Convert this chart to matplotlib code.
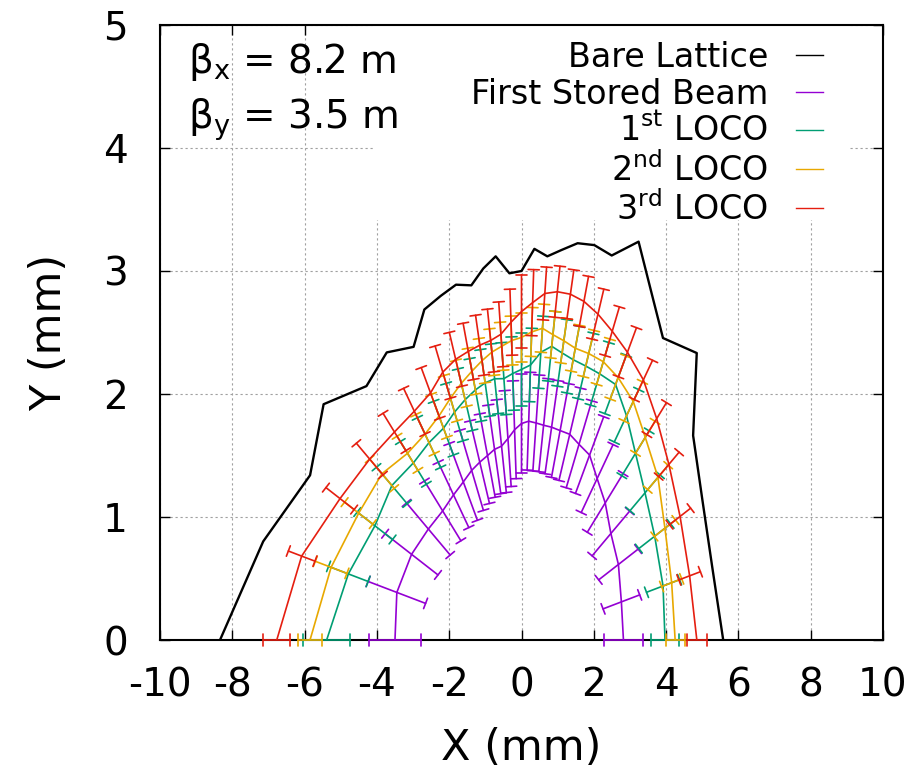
import numpy as np
import matplotlib.pyplot as plt
from matplotlib.lines import Line2D
from matplotlib.patches import Rectangle

plt.rcParams['font.family'] = 'DejaVu Sans'
plt.rcParams['mathtext.default'] = 'regular'
plt.rcParams['axes.unicode_minus'] = False

# scan rays (deg, measured from +x axis)
angles = [180.0, 173.6, 167.1, 160.7, 154.3, 147.9, 141.4, 135.0, 128.6, 122.1,
          115.7, 109.3, 102.9, 96.4, 90.0, 83.6, 77.1, 70.7, 64.3, 57.9,
          51.4, 45.0, 38.6, 32.1, 25.7, 19.3, 12.9, 6.4, 0.0]

# aperture radius along each ray (mm) and its error
r_bare = [8.34, 7.19, 6.00, 5.80, 4.76, 4.40, 3.82, 3.80, 3.58, 3.41,
          3.20, 3.20, 3.20, 3.00, 3.00, 3.20, 3.20, 3.36, 3.58, 3.79,
          4.00, 4.58, 4.57, 4.62, 5.38, 5.03, 5.13, 5.31, 5.58]

r_first = [3.50, 3.47, 3.12, 2.73, 2.42, 2.22, 2.06, 1.95, 1.85, 1.77,
           1.72, 1.67, 1.68, 1.72, 1.76, 1.79, 1.81, 1.85, 1.92, 2.01,
           2.14, 2.25, 2.41, 2.47, 2.57, 2.62, 2.75, 2.78, 2.82]
e_first = [0.72, 0.80, 0.75, 0.64, 0.56, 0.50, 0.50, 0.46, 0.43, 0.40,
           0.40, 0.40, 0.40, 0.40, 0.40, 0.40, 0.40, 0.40, 0.42, 0.45,
           0.48, 0.50, 0.50, 0.52, 0.55, 0.55, 0.56, 0.51, 0.53]

r_loco1 = [5.39, 4.82, 4.16, 3.80, 3.32, 3.02, 2.76, 2.62, 2.50, 2.40,
           2.32, 2.25, 2.18, 2.18, 2.20, 2.25, 2.40, 2.53, 2.59, 2.69,
           2.85, 3.06, 3.33, 3.43, 3.50, 3.62, 3.78, 3.94, 3.97]
e_loco1 = [0.65, 0.55, 0.50, 0.45, 0.40, 0.38, 0.35, 0.33, 0.32, 0.30,
           0.30, 0.30, 0.30, 0.30, 0.30, 0.30, 0.30, 0.30, 0.30, 0.32,
           0.34, 0.36, 0.38, 0.40, 0.42, 0.44, 0.45, 0.46, 0.39]

r_loco2 = [5.85, 5.30, 4.62, 4.09, 3.50, 3.15, 2.92, 2.78, 2.67, 2.58,
           2.52, 2.48, 2.45, 2.45, 2.46, 2.52, 2.60, 2.63, 2.70, 2.80,
           2.98, 3.20, 3.42, 3.65, 3.80, 4.00, 4.07, 4.18, 4.25]
e_loco2 = [0.33, 0.44, 0.40, 0.36, 0.32, 0.30, 0.28, 0.26, 0.24, 0.22,
           0.20, 0.20, 0.20, 0.20, 0.20, 0.20, 0.20, 0.20, 0.20, 0.22,
           0.24, 0.26, 0.28, 0.30, 0.30, 0.30, 0.30, 0.28, 0.26]

r_loco3 = [6.77, 6.12, 5.15, 4.45, 3.90, 3.50, 3.22, 3.08, 2.92, 2.77,
           2.66, 2.58, 2.55, 2.60, 2.67, 2.76, 2.89, 3.00, 3.12, 3.25,
           3.39, 3.55, 3.75, 3.98, 4.15, 4.32, 4.50, 4.68, 4.85]
e_loco3 = [0.37, 0.37, 0.40, 0.39, 0.35, 0.35, 0.33, 0.30, 0.28, 0.27,
           0.27, 0.27, 0.27, 0.27, 0.30, 0.27, 0.22, 0.22, 0.22, 0.24,
           0.26, 0.28, 0.32, 0.30, 0.30, 0.30, 0.30, 0.30, 0.27]

labels = ['Bare Lattice', 'First Stored Beam', '1$^{st}$ LOCO',
          '2$^{nd}$ LOCO', '3$^{rd}$ LOCO']
colors = ['black', '#9400D3', '#009E73', '#E8A800', '#E51E10']

th = np.radians(angles)
cs, sn = np.cos(th), np.sin(th)

fig = plt.figure(figsize=(9.21, 7.75), dpi=100)
ax = fig.add_axes([160 / 921, 135 / 775, 723 / 921, 615 / 775])
ax.set_xlim(-10, 10)
ax.set_ylim(0, 5)

# bare lattice: plain line
ax.plot(np.array(r_bare) * cs, np.array(r_bare) * sn, color=colors[0], lw=1.7, zorder=3)

# the other runs: radial error bars + line
runs = [(r_first, e_first), (r_loco1, e_loco1), (r_loco2, e_loco2), (r_loco3, e_loco3)]
for i, (r, e) in enumerate(runs):
    c = colors[i + 1]
    z = 4 + i
    r = np.array(r)
    e = np.array(e)
    for k in range(len(r)):
        lo = r[k] - e[k]
        hi = r[k] + e[k]
        ax.annotate('', xy=(hi * cs[k], hi * sn[k]), xytext=(lo * cs[k], lo * sn[k]),
                    arrowprops=dict(arrowstyle='|-|,widthA=0.4,widthB=0.4', color=c,
                                    lw=1.2, shrinkA=0, shrinkB=0),
                    annotation_clip=False, zorder=z)
    ax.plot(r * cs, r * sn, color=c, lw=1.2, zorder=z)

# grid, hidden behind the key
ax.set_axisbelow(True)
ax.grid(True, color='#a0a0a0', linestyle=(0, (2, 2.5)), lw=0.8)
ax.add_patch(Rectangle((0.295, 0.683), 0.659, 0.317, transform=ax.transAxes,
                       facecolor='white', edgecolor='none', zorder=1))

ax.set_xticks(range(-10, 11, 2))
ax.set_yticks(range(0, 6))
ax.tick_params(direction='in', length=7, width=1.0, top=True, right=True,
               labelsize=28)
ax.tick_params(axis='x', pad=19)
ax.tick_params(axis='y', pad=23)
for s in ax.spines.values():
    s.set_linewidth(1.5)

ax.set_xlabel('X (mm)', fontsize=31, labelpad=16)
ax.set_ylabel('Y (mm)', fontsize=31, labelpad=24)

ax.text(0.039, 0.922, 'β$_x$ = 8.2 m', transform=ax.transAxes, fontsize=28, va='baseline')
ax.text(0.039, 0.832, 'β$_y$ = 3.5 m', transform=ax.transAxes, fontsize=28, va='baseline')

handles = [Line2D([], [], color=c, lw=1.0) for c in colors]
ax.legend(handles, labels, loc='upper right', bbox_to_anchor=(0.917, 0.974),
          frameon=False, markerfirst=False, fontsize=24, handlelength=0.8,
          handletextpad=0.85, labelspacing=0.11, borderpad=0, borderaxespad=0)

fig.savefig('out.png', dpi=100)
